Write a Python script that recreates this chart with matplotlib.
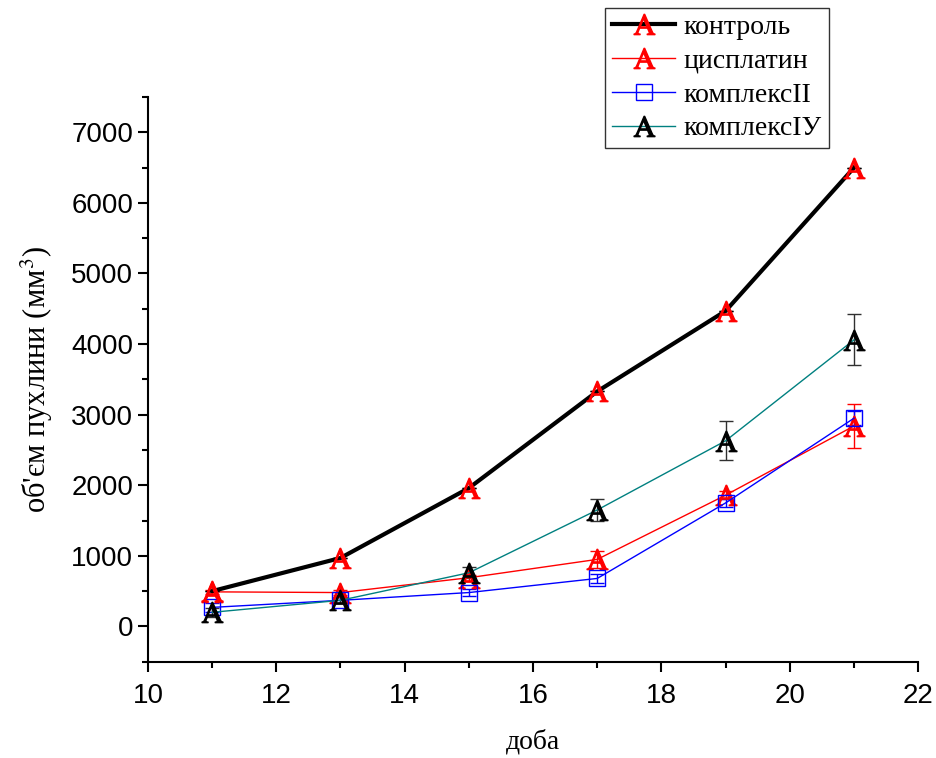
import numpy as np
import matplotlib.pyplot as plt
from matplotlib.lines import Line2D
from matplotlib.ticker import MultipleLocator

plt.rcParams['mathtext.fontset'] = 'stix'

# дні спостереження
days = [11, 13, 15, 17, 19, 21]

# об'єм пухлини, мм^3
control = [500, 970, 1960, 3330, 4470, 6500]
control_err = [0, 0, 0, 0, 0, 0]
cisplatin = [490, 480, 690, 950, 1860, 2840]
cisplatin_err = [30, 30, 40, 120, 60, 310]
complex2 = [270, 370, 480, 680, 1750, 2950]
complex2_err = [60, 40, 50, 60, 60, 100]
complex4 = [200, 370, 760, 1650, 2630, 4060]
complex4_err = [60, 40, 80, 150, 275, 360]

labels = ['контроль', 'цисплатин', 'комплексII', 'комплексIУ']

fig = plt.figure(figsize=(9.36, 7.58), dpi=100)
ax = fig.add_axes([0.158, 0.127, 0.823, 0.745])

A = r'$\mathrm{A}$'

styles = [
    dict(color='black', lw=3, marker=A, ms=15, mfc='red', mec='red'),
    dict(color='red', lw=1, marker=A, ms=15, mfc='red', mec='red'),
    dict(color='blue', lw=1, marker='s', ms=11, mfc='none', mec='blue', mew=1),
    dict(color='#008080', lw=1, marker=A, ms=15, mfc='black', mec='black'),
]
series = [(control, control_err, 'black', 4),
          (cisplatin, cisplatin_err, 'red', 3),
          (complex2, complex2_err, 'blue', 3),
          (complex4, complex4_err, '#303030', 3)]

for (vals, err, ecol, z), st in zip(series, styles):
    ax.errorbar(days, vals, yerr=err, ecolor=ecol, capsize=5, elinewidth=1,
                zorder=z, **st)

ax.set_xlim(10, 22)
ax.set_ylim(-500, 7500)
ax.xaxis.set_major_locator(MultipleLocator(2))
ax.xaxis.set_minor_locator(MultipleLocator(1))
ax.yaxis.set_minor_locator(MultipleLocator(500))
ax.set_yticks(np.arange(0, 7001, 1000))

for s in ['top', 'right']:
    ax.spines[s].set_visible(False)
for s in ['left', 'bottom']:
    ax.spines[s].set_linewidth(1.5)

ax.tick_params(which='major', direction='out', length=7, width=1.5,
               labelsize=20)
ax.tick_params(which='minor', direction='out', length=4, width=1.5)
for t in ax.get_xticklabels() + ax.get_yticklabels():
    t.set_fontfamily('Liberation Sans')
ax.tick_params(axis='x', pad=8)

ax.set_xlabel('доба', fontfamily='Liberation Serif', fontsize=20, labelpad=15)
ax.set_ylabel("об'єм пухлини (мм$^3$)", fontfamily='Liberation Serif',
              fontsize=22, labelpad=12)

handles = []
for st in styles:
    handles.append(Line2D([], [], **st))

leg = fig.legend(handles=handles, labels=labels,
                 loc='upper left', bbox_to_anchor=(0.646, 0.99),
                 prop={'family': 'Liberation Serif', 'size': 20},
                 frameon=True, fancybox=False, edgecolor='black',
                 handlelength=2.3, handletextpad=0.3, borderpad=0.25,
                 borderaxespad=0, labelspacing=0.3)
leg.get_frame().set_linewidth(1)

fig.savefig('out.png', dpi=100)
